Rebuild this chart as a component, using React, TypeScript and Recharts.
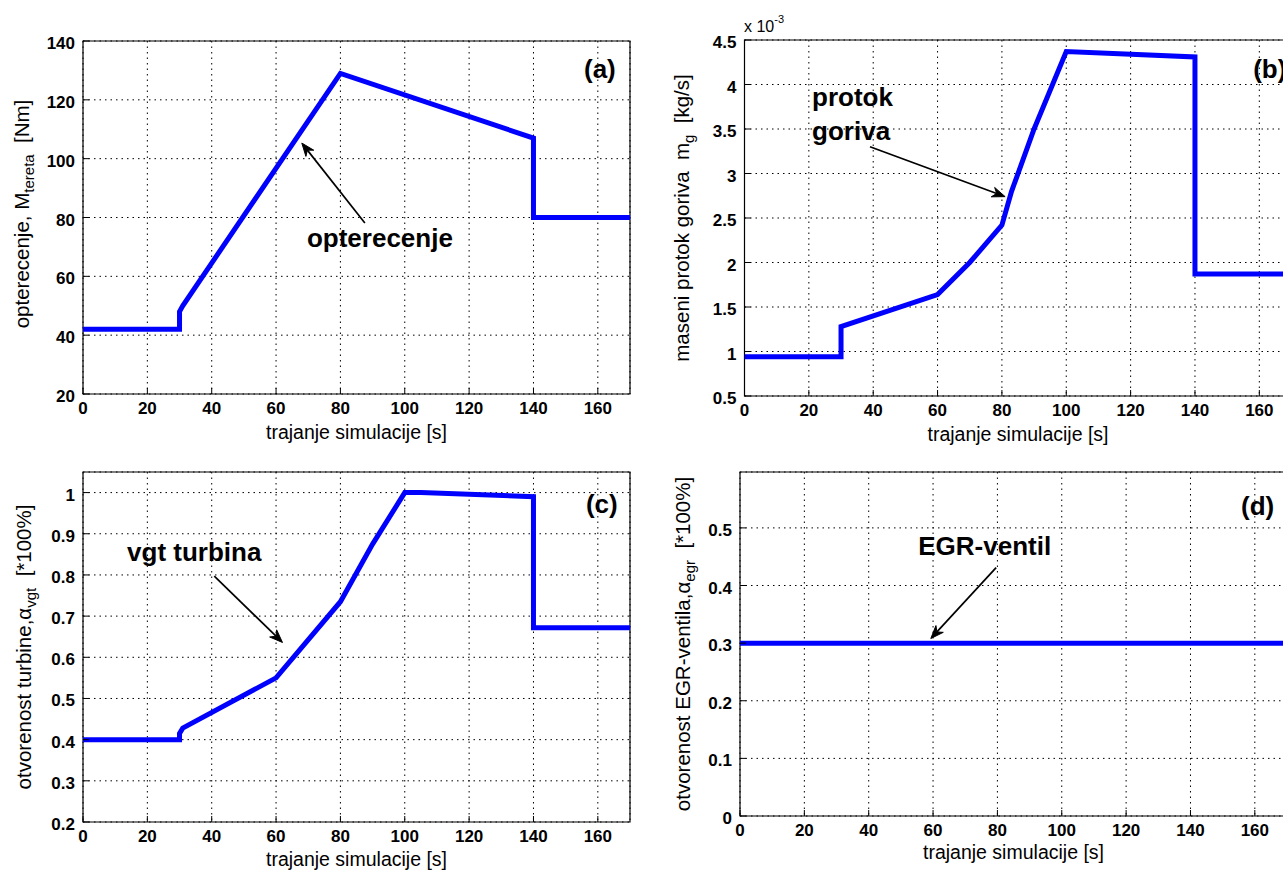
import React from 'react';
import {
  LineChart,
  Line,
  XAxis,
  YAxis,
  CartesianGrid,
  ReferenceArea,
  ReferenceLine,
  ReferenceDot,
} from 'recharts';

const FONT = '"Liberation Sans", Arial, Helvetica, sans-serif';
const BLUE = '#0000ff';

// shared time axis
const timeTicks = [0, 20, 40, 60, 80, 100, 120, 140, 160];
const timeDomain = [0, 170];

// (a) load torque
const loadTime = [0, 30, 30, 31, 80, 140, 140, 170];
const loadTorque = [42, 42, 48, 50, 129, 107, 80, 80];
const loadTicks = [20, 40, 60, 80, 100, 120, 140];
const loadDomain = [20, 140];

// (b) fuel mass flow (x 10^-3 kg/s)
const fuelTime = [0, 30, 30, 60, 70, 80, 83, 90, 100, 140, 140, 170];
const fuelFlow = [0.94, 0.94, 1.28, 1.64, 2.0, 2.42, 2.8, 3.5, 4.37, 4.31, 1.87, 1.87];
const fuelTicks = [0.5, 1, 1.5, 2, 2.5, 3, 3.5, 4, 4.5];
const fuelDomain = [0.5, 4.5];

// (c) VGT opening
const vgtTime = [0, 30, 30, 31, 60, 80, 90, 100, 105, 140, 140, 170];
const vgtOpen = [0.4, 0.4, 0.415, 0.428, 0.55, 0.735, 0.875, 1.0, 1.0, 0.99, 0.672, 0.672];
const vgtTicks = [0.2, 0.3, 0.4, 0.5, 0.6, 0.7, 0.8, 0.9, 1];
const vgtDomain = [0.2, 1.05];

// (d) EGR valve opening
const egrTime = [0, 170];
const egrOpen = [0.3, 0.3];
const egrTicks = [0, 0.1, 0.2, 0.3, 0.4, 0.5];
const egrDomain = [0, 0.597];

// annotations: text anchor [t, value], arrow tail, arrow head
const noteA = { lines: ['opterecenje'], at: [69.6, 70], tail: [87.6, 78.1], head: [68, 105.3] };
const noteB = { lines: ['protok', 'goriva'], at: [21, 3.76], tail: [39, 3.3], head: [81, 2.74] };
const noteC = { lines: ['vgt turbina'], at: [13.7, 0.834], tail: [40.8, 0.797], head: [62, 0.636] };
const noteD = { lines: ['EGR-ventil'], at: [55.4, 0.453], tail: [79.6, 0.431], head: [59.3, 0.308] };

const tagA = { text: '(a)', at: [155.7, 127.5] };
const tagB = { text: '(b)', at: [158.1, 4.07] };
const tagC = { text: '(c)', at: [156.3, 0.95] };
const tagD = { text: '(d)', at: [155.7, 0.523] };

const zip = (ts: number[], vs: number[]) => ts.map((t, i) => ({ t, v: vs[i] }));

const XTick = (p: any) => {
  const { x, y, payload } = p;
  return (
    <g>
      <line x1={x} x2={x} y1={y} y2={y - 6} stroke="#000" strokeWidth={1} />
      <text x={x} y={y + 20} textAnchor="middle" fontFamily={FONT} fontWeight="bold" fontSize={17} fill="#000">
        {String(payload.value)}
      </text>
    </g>
  );
};

const YTick = (p: any) => {
  const { x, y, payload } = p;
  return (
    <g>
      <line x1={x} x2={x + 6} y1={y} y2={y} stroke="#000" strokeWidth={1} />
      <text x={x - 8} y={y + 8} textAnchor="end" fontFamily={FONT} fontWeight="bold" fontSize={17} fill="#000">
        {String(payload.value)}
      </text>
    </g>
  );
};

const Arrow = (p: any) => {
  const { x1, y1, x2, y2 } = p;
  const dx = x2 - x1;
  const dy = y2 - y1;
  const len = Math.hypot(dx, dy) || 1;
  const ux = dx / len;
  const uy = dy / len;
  const nx = -uy;
  const ny = ux;
  const L = 13;
  const W = 5;
  const N = 9;
  const bx = x2 - ux * L;
  const by = y2 - uy * L;
  const pts = [
    [x2, y2],
    [bx + nx * W, by + ny * W],
    [x2 - ux * N, y2 - uy * N],
    [bx - nx * W, by - ny * W],
  ]
    .map((q) => q.join(','))
    .join(' ');
  return (
    <g>
      <line x1={x1} y1={y1} x2={x2 - ux * N} y2={y2 - uy * N} stroke="#000" strokeWidth={1.7} />
      <polygon points={pts} fill="#000" stroke="#000" strokeWidth={1} />
    </g>
  );
};

const noteShape = (lines: string[]) => (p: any) => (
  <text x={p.cx} y={p.cy} fontFamily={FONT} fontWeight="bold" fontSize={26} fill="#000">
    {lines.map((s, i) => (
      <tspan key={i} x={p.cx} dy={i === 0 ? 0 : 34}>
        {s}
      </tspan>
    ))}
  </text>
);

const tagShape = (text: string) => (p: any) => (
  <text x={p.cx} y={p.cy} fontFamily={FONT} fontWeight="bold" fontSize={26} fill="#000">
    {text}
  </text>
);

type PanelProps = {
  left: number;
  top: number;
  width: number;
  height: number;
  margin: { top: number; right: number; bottom: number; left: number };
  data: { t: number; v: number }[];
  yDomain: number[];
  yTicks: number[];
  note: { lines: string[]; at: number[]; tail: number[]; head: number[] };
  tag: { text: string; at: number[] };
};

function Panel({ left, top, width, height, margin, data, yDomain, yTicks, note, tag }: PanelProps) {
  return (
    <div style={{ position: 'absolute', left, top, width, height }}>
      <LineChart width={width} height={height} data={data} margin={margin}>
        <CartesianGrid stroke="#000" strokeDasharray="1.5 4" strokeWidth={1} />
        <XAxis
          dataKey="t"
          type="number"
          domain={timeDomain}
          ticks={timeTicks}
          interval={0}
          allowDataOverflow
          axisLine={false}
          tickLine={false}
          tickSize={0}
          tickMargin={0}
          height={30}
          tick={(p: any) => <XTick {...p} />}
        />
        <YAxis
          type="number"
          domain={yDomain}
          ticks={yTicks}
          interval={0}
          allowDataOverflow
          axisLine={false}
          tickLine={false}
          tickSize={0}
          tickMargin={0}
          width={40}
          tick={(p: any) => <YTick {...p} />}
        />
        <ReferenceArea
          x1={timeDomain[0]}
          x2={timeDomain[1]}
          y1={yDomain[0]}
          y2={yDomain[1]}
          fill="none"
          fillOpacity={0}
          stroke="#000"
          strokeWidth={1.2}
          ifOverflow="visible"
        />
        <Line
          type="linear"
          dataKey="v"
          stroke={BLUE}
          strokeWidth={5}
          dot={false}
          activeDot={false}
          isAnimationActive={false}
        />
        <ReferenceLine
          segment={[
            { x: note.tail[0], y: note.tail[1] },
            { x: note.head[0], y: note.head[1] },
          ]}
          shape={Arrow}
          ifOverflow="visible"
        />
        <ReferenceDot x={note.at[0]} y={note.at[1]} r={0} shape={noteShape(note.lines)} ifOverflow="visible" />
        <ReferenceDot x={tag.at[0]} y={tag.at[1]} r={0} shape={tagShape(tag.text)} ifOverflow="visible" />
      </LineChart>
    </div>
  );
}

const XLABEL = 'trajanje simulacije [s]';

function YLabel({ x, y, main, sub, tail }: { x: number; y: number; main: string; sub: string; tail: string }) {
  return (
    <text transform={`translate(${x},${y}) rotate(-90)`} textAnchor="middle" fontFamily={FONT} fontSize={20.5} fill="#000">
      <tspan>{main}</tspan>
      <tspan fontSize={15} dy={5}>
        {sub}
      </tspan>
      <tspan dy={-5}>{tail}</tspan>
    </text>
  );
}

export default function App() {
  const sp = '\u00A0\u00A0';
  return (
    <div
      style={{
        position: 'fixed',
        left: 0,
        top: 0,
        width: 1283,
        height: 872,
        overflow: 'hidden',
        background: '#fff',
      }}
    >
      <Panel
        left={0}
        top={0}
        width={640}
        height={450}
        margin={{ top: 41, right: 10, bottom: 26, left: 43 }}
        data={zip(loadTime, loadTorque)}
        yDomain={loadDomain}
        yTicks={loadTicks}
        note={noteA}
        tag={tagA}
      />
      <Panel
        left={640}
        top={0}
        width={660}
        height={450}
        margin={{ top: 40, right: 8.5, bottom: 24, left: 64.5 }}
        data={zip(fuelTime, fuelFlow)}
        yDomain={fuelDomain}
        yTicks={fuelTicks}
        note={noteB}
        tag={tagB}
      />
      <Panel
        left={0}
        top={440}
        width={640}
        height={432}
        margin={{ top: 32, right: 10, bottom: 20, left: 43 }}
        data={zip(vgtTime, vgtOpen)}
        yDomain={vgtDomain}
        yTicks={vgtTicks}
        note={noteC}
        tag={tagC}
      />
      <Panel
        left={640}
        top={440}
        width={660}
        height={432}
        margin={{ top: 32, right: 13, bottom: 26, left: 60 }}
        data={zip(egrTime, egrOpen)}
        yDomain={egrDomain}
        yTicks={egrTicks}
        note={noteD}
        tag={tagD}
      />
      <svg
        width={1283}
        height={872}
        style={{ position: 'absolute', left: 0, top: 0, pointerEvents: 'none' }}
      >
        <g fontFamily={FONT} fontSize={19.5} fill="#000">
          <text x={356.5} y={439} textAnchor="middle">{XLABEL}</text>
          <text x={1018} y={441} textAnchor="middle">{XLABEL}</text>
          <text x={356.5} y={866} textAnchor="middle">{XLABEL}</text>
          <text x={1013.5} y={859} textAnchor="middle">{XLABEL}</text>
        </g>
        <YLabel x={29} y={214} main="opterecenje, M" sub="tereta" tail={sp + '[Nm]'} />
        <YLabel x={689} y={218} main={'maseni protok goriva' + sp + 'm'} sub="g" tail={sp + '[kg/s]'} />
        <YLabel x={31} y={647} main="otvorenost turbine,α" sub="vgt" tail={sp + '[*100%]'} />
        <YLabel x={690} y={644} main="otvorenost EGR-ventila,α" sub="egr" tail={sp + '[*100%]'} />
        <text x={744} y={32} fontFamily={FONT} fontSize={16} fill="#000">
          <tspan>x 10</tspan>
          <tspan fontSize={11} dy={-9}>-3</tspan>
        </text>
      </svg>
    </div>
  );
}
